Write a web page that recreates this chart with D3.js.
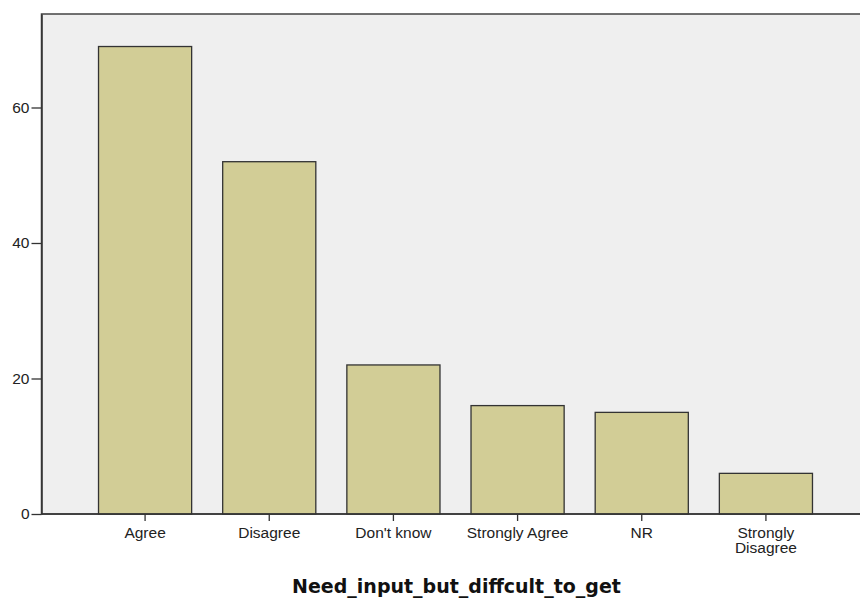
<!DOCTYPE html>
<html><head><meta charset="utf-8">
<script src="https://cdn.jsdelivr.net/npm/d3@7/dist/d3.min.js"></script>
<style>body{margin:0;background:#fff}svg{display:block}</style>
</head><body>
<svg id="chart" width="860" height="601"></svg>
<script>
const categories = ["Agree","Disagree","Don't know","Strongly Agree","NR","Strongly Disagree"];
const counts = [69, 52, 22, 16, 15, 6];
const yTicks = [0, 20, 40, 60];
const xTitle = "Need_input_but_diffcult_to_get";

const svg = d3.select("#chart");
const plotLeft = 41.5, plotRight = 862, plotTop = 14, plotBottom = 514;

const x = d3.scaleBand().domain(categories).range([83, 828]).paddingInner(0.25).paddingOuter(0.125);
const y = d3.scaleLinear().domain([0, 73.8]).range([plotBottom, plotTop]);

svg.append("rect").attr("x", plotLeft).attr("y", plotTop)
  .attr("width", plotRight - plotLeft).attr("height", plotBottom - plotTop)
  .attr("fill", "#efefef").attr("stroke", "#444").attr("stroke-width", 1.5);

svg.selectAll("rect.bar").data(categories).enter().append("rect")
  .attr("class", "bar")
  .attr("x", d => x(d))
  .attr("y", (d, i) => y(counts[i]))
  .attr("width", x.bandwidth())
  .attr("height", (d, i) => y(0) - y(counts[i]))
  .attr("fill", "#d2cd96").attr("stroke", "#333").attr("stroke-width", 1.3);

const font = "'Liberation Sans', Arial, sans-serif";

const yAxis = svg.append("g").attr("transform", `translate(${plotLeft},0)`)
  .call(d3.axisLeft(y).tickValues(yTicks).tickSize(10).tickSizeOuter(0).tickPadding(2));
yAxis.select(".domain").attr("stroke", "#333").attr("stroke-width", 1.5);
yAxis.selectAll(".tick line").attr("stroke", "#333").attr("stroke-width", 1.3);
yAxis.selectAll("text").attr("font-family", font).attr("font-size", 15.5).attr("fill", "#222");

const xAxis = svg.append("g").attr("transform", `translate(0,${plotBottom})`)
  .call(d3.axisBottom(x).tickSize(7).tickPadding(6).tickSizeOuter(0));
xAxis.select(".domain").attr("stroke", "#333").attr("stroke-width", 1.5).attr("d", `M${plotLeft},0H${plotRight}`);
xAxis.selectAll(".tick line").attr("stroke", "#333").attr("stroke-width", 1.3);
xAxis.selectAll("text").attr("font-family", font).attr("font-size", 15.5).attr("fill", "#222")
  .each(function(d) {
    if (d === "Strongly Disagree") {
      const t = d3.select(this);
      t.text(null);
      t.append("tspan").attr("x", 0).attr("dy", "0.71em").text("Strongly");
      t.append("tspan").attr("x", 0).attr("dy", "0.95em").text("Disagree");
      t.attr("dy", null);
    }
  });

svg.append("text").attr("x", 456.5).attr("y", 593)
  .attr("text-anchor", "middle").attr("font-family", "'DejaVu Sans', sans-serif")
  .attr("font-size", 19).attr("font-weight", "bold").attr("fill", "#111")
  .text(xTitle);
</script>
</body></html>
